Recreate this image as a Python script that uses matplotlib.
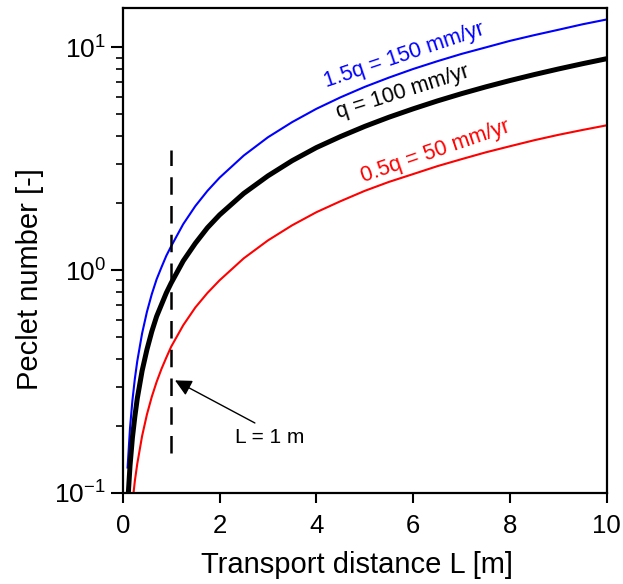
import numpy as np
import matplotlib
matplotlib.use("Agg")
import matplotlib.pyplot as plt

plt.rcParams['font.family'] = ['Liberation Sans', 'DejaVu Sans']
plt.rcParams['mathtext.fontset'] = 'custom'
plt.rcParams['mathtext.rm'] = 'Liberation Sans'
plt.rcParams['mathtext.it'] = 'Liberation Sans'
plt.rcParams['mathtext.default'] = 'regular'

# Transport distance L [m]
L = [0.1, 0.15, 0.2, 0.25, 0.3, 0.4, 0.5, 0.6, 0.7, 0.8, 0.9, 1.0,
     1.25, 1.5, 1.75, 2.0, 2.5, 3.0, 3.5, 4.0, 4.5, 5.0, 5.5, 6.0,
     6.5, 7.0, 7.5, 8.0, 8.5, 9.0, 9.5, 10.0]
# Peclet number for the three fluxes
pe_150 = [0.13, 0.195, 0.26, 0.325, 0.39, 0.52, 0.65, 0.78, 0.91, 1.03, 1.16, 1.28,
          1.61, 1.94, 2.27, 2.6, 3.27, 3.95, 4.62, 5.3, 5.97, 6.65, 7.32, 8.0,
          8.67, 9.35, 10.0, 10.7, 11.35, 12.0, 12.7, 13.35]
pe_100 = [0.088, 0.132, 0.177, 0.22, 0.265, 0.353, 0.44, 0.53, 0.62, 0.70, 0.79, 0.875,
          1.1, 1.32, 1.55, 1.77, 2.21, 2.65, 3.1, 3.55, 3.98, 4.42, 4.86, 5.3,
          5.75, 6.2, 6.65, 7.1, 7.55, 8.0, 8.45, 8.9]
pe_50 = [0.045, 0.068, 0.09, 0.113, 0.135, 0.18, 0.225, 0.27, 0.315, 0.36, 0.405, 0.453,
         0.566, 0.68, 0.79, 0.9, 1.13, 1.36, 1.59, 1.82, 2.04, 2.27, 2.49, 2.7,
         2.93, 3.15, 3.38, 3.6, 3.83, 4.05, 4.26, 4.47]

labels = ["1.5q = 150 mm/yr", "q = 100 mm/yr", "0.5q = 50 mm/yr"]
xticks = [0, 2, 4, 6, 8, 10]

fig = plt.figure(figsize=(6.23, 5.84), dpi=100)
ax = fig.add_axes([0.197, 0.156, 0.777, 0.830])

ax.plot(L, pe_150, color='#0000ff', lw=1.5)
ax.plot(L, pe_100, color='black', lw=3.6)
ax.plot(L, pe_50, color='#ff0000', lw=1.5)

ax.set_yscale('log')
ax.set_xlim(0, 10)
ax.set_ylim(0.1, 15)
ax.set_xticks(xticks)
ax.set_xticklabels([str(t) for t in xticks])
ax.set_yticks([0.1, 1, 10])
ax.set_yticklabels([r'$10^{-1}$', r'$10^{0}$', r'$10^{1}$'])

# vertical dashed line at L = 1 m
ax.plot([1, 1], [0.151, 3.45], color='black', lw=1.8, linestyle=(0, (7, 4.5)))

ax.annotate("", xy=(1.08, 0.32), xytext=(2.73, 0.206),
            arrowprops=dict(arrowstyle='-|>', color='black', lw=1.0,
                            mutation_scale=25, shrinkA=0, shrinkB=0))
ax.text(3.03, 0.178, "L = 1 m", fontsize=15, ha='center', va='center')

ax.text(5.81, 9.2, labels[0], color='#0000ff', fontsize=15.5, rotation=18.5,
        ha='center', va='center', rotation_mode='anchor')
ax.text(5.79, 6.28, labels[1], color='black', fontsize=15.5, rotation=17.5,
        ha='center', va='center', rotation_mode='anchor')
ax.text(6.45, 3.42, labels[2], color='#ff0000', fontsize=15.5, rotation=19,
        ha='center', va='center', rotation_mode='anchor')

for s in ax.spines.values():
    s.set_linewidth(1.6)
ax.tick_params(axis='x', which='major', direction='out', length=7, width=1.5,
               labelsize=18.5, pad=8)
ax.tick_params(axis='y', which='major', direction='out', length=9, width=1.5,
               labelsize=19, pad=3)
ax.tick_params(axis='y', which='minor', direction='out', length=5, width=1.2)

ax.set_xlabel("Transport distance L [m]", fontsize=21)
ax.set_ylabel("Peclet number [-]", fontsize=21)
ax.xaxis.set_label_coords(0.483, -0.12)
ax.yaxis.set_label_coords(-0.163, 0.441)

fig.savefig("out.png", dpi=100)
